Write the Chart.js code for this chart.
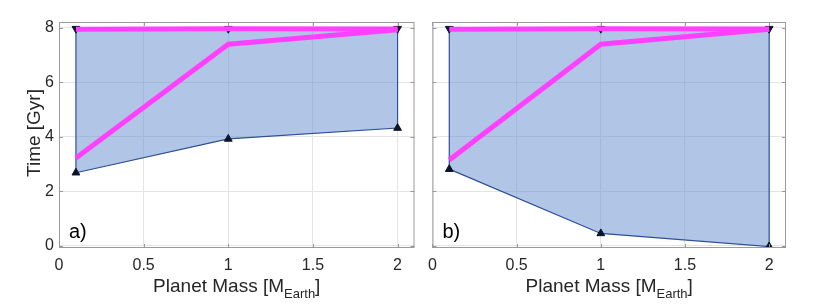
<!DOCTYPE html>
<html lang="en">
<head>
    <meta charset="UTF-8" />
    <title>Planet mass vs time</title>
    <script src="https://cdn.jsdelivr.net/npm/chart.js"></script>
    <style>
        html, body { margin: 0; padding: 0; background: #fff; }
        #wrap { position: relative; width: 830px; height: 305px; }
        canvas { position: absolute; top: 0; }
    </style>
</head>
<body>
<div id="wrap">
    <canvas id="chartA" width="420" height="305" style="left:0"></canvas>
    <canvas id="chartB" width="410" height="305" style="left:420px"></canvas>
</div>
<script>
    // data
    const masses = [0.1, 1, 2];
    const xTicks = [0, 0.5, 1, 1.5, 2];
    const yTicks = [0, 2, 4, 6, 8];

    const aLower = [2.68, 3.92, 4.32];
    const aUpper = [7.97, 7.97, 7.97];
    const aMedian = [3.22, 7.40, 7.93];
    const aMax = [7.95, 7.97, 7.96];

    const bLower = [2.81, 0.45, -0.03];
    const bUpper = [7.97, 7.97, 7.97];
    const bMedian = [3.15, 7.40, 7.95];
    const bMax = [7.95, 7.97, 7.96];

    const FONT = '"Liberation Sans", Arial, Helvetica, sans-serif';
    const TXT = '#262626';

    function pts(xs, ys) {
        return xs.map((x, i) => ({ x: x, y: ys[i] }));
    }

    function polygon(lower, upper) {
        const p = pts(masses, lower);
        for (let i = masses.length - 1; i >= 0; i--) p.push({ x: masses[i], y: upper[i] });
        p.push(p[0]);
        return p;
    }

    // box, inward ticks, titles and panel letter
    function framePlugin(letter, showYTitle) {
        return {
            id: 'frame',
            afterDraw(chart) {
                const ctx = chart.ctx;
                const a = chart.chartArea;
                const xs = chart.scales.x, ys = chart.scales.y;
                ctx.save();
                ctx.strokeStyle = '#9a9a9a';
                ctx.lineWidth = 1;
                ctx.strokeRect(a.left + 0.5, a.top + 0.5, a.right - a.left - 1, a.bottom - a.top - 1);
                ctx.beginPath();
                xTicks.forEach(v => {
                    const px = Math.round(xs.getPixelForValue(v)) + 0.5;
                    ctx.moveTo(px, a.bottom); ctx.lineTo(px, a.bottom - 4);
                    ctx.moveTo(px, a.top); ctx.lineTo(px, a.top + 4);
                });
                yTicks.forEach(v => {
                    const py = Math.round(ys.getPixelForValue(v)) + 0.5;
                    ctx.moveTo(a.left, py); ctx.lineTo(a.left + 4, py);
                    ctx.moveTo(a.right, py); ctx.lineTo(a.right - 4, py);
                });
                ctx.stroke();

                ctx.fillStyle = '#000';
                ctx.font = '20px ' + FONT;
                ctx.textAlign = 'left';
                ctx.textBaseline = 'alphabetic';
                ctx.fillText(letter, a.left + 10, a.bottom - 10);

                // x title with subscript
                ctx.fillStyle = TXT;
                const main = 'Planet Mass [M', sub = 'Earth', end = ']';
                ctx.font = '19px ' + FONT;
                const w1 = ctx.measureText(main).width;
                const w3 = ctx.measureText(end).width;
                ctx.font = '13px ' + FONT;
                const w2 = ctx.measureText(sub).width;
                let x0 = (a.left + a.right) / 2 - (w1 + w2 + w3) / 2;
                const base = 292;
                ctx.font = '19px ' + FONT;
                ctx.fillText(main, x0, base);
                ctx.font = '13px ' + FONT;
                ctx.fillText(sub, x0 + w1, base + 6);
                ctx.font = '19px ' + FONT;
                ctx.fillText(end, x0 + w1 + w2, base);

                if (showYTitle) {
                    ctx.translate(35, (a.top + a.bottom) / 2 - 2);
                    ctx.rotate(-Math.PI / 2);
                    ctx.textAlign = 'center';
                    ctx.textBaseline = 'middle';
                    ctx.fillText('Time [Gyr]', 0, 0);
                }
                ctx.restore();
            }
        };
    }

    function makeChart(id, lower, upper, median, maxLine, letter, showYLabels, yWidth, padRight) {
        const ctx = document.getElementById(id).getContext('2d');
        return new Chart(ctx, {
            type: 'scatter',
            data: {
                datasets: [
                    {
                        data: pts(masses, lower),
                        pointStyle: 'triangle',
                        pointRadius: 4.5,
                        backgroundColor: '#0a1428',
                        borderColor: '#0a1428',
                        borderWidth: 1,
                        showLine: false,
                        order: 1
                    },
                    {
                        data: pts(masses, upper),
                        pointStyle: 'triangle',
                        rotation: 180,
                        pointRadius: 4.5,
                        backgroundColor: '#0a1428',
                        borderColor: '#0a1428',
                        borderWidth: 1,
                        showLine: false,
                        order: 4
                    },
                    {
                        data: pts(masses, median),
                        showLine: true,
                        borderColor: '#ff40ff',
                        borderWidth: 5,
                        pointRadius: 0,
                        fill: false,
                        order: 2
                    },
                    {
                        data: pts(masses, maxLine),
                        showLine: true,
                        borderColor: '#ff40ff',
                        borderWidth: 5,
                        pointRadius: 0,
                        fill: false,
                        order: 2
                    },
                    {
                        data: polygon(lower, upper),
                        showLine: true,
                        borderColor: '#2c4f97',
                        borderWidth: 1.2,
                        backgroundColor: 'rgba(100,140,205,0.5)',
                        pointRadius: 0,
                        fill: 'shape',
                        order: 5
                    }
                ]
            },
            options: {
                responsive: false,
                animation: false,
                devicePixelRatio: 1,
                layout: { padding: { left: 0, right: padRight, top: 22, bottom: 0 } },
                plugins: { legend: { display: false }, tooltip: { enabled: false } },
                scales: {
                    x: {
                        type: 'linear',
                        min: 0,
                        max: 2.1,
                        afterBuildTicks: s => { s.ticks = xTicks.map(v => ({ value: v })); },
                        afterFit: s => { s.height = 57; },
                        grid: { color: '#e4e4e4', drawTicks: false },
                        border: { display: false },
                        ticks: {
                            padding: 8,
                            color: TXT,
                            font: { family: FONT, size: 16 },
                            callback: v => String(v),
                            maxRotation: 0
                        }
                    },
                    y: {
                        type: 'linear',
                        min: -0.085,
                        max: 8.215,
                        afterBuildTicks: s => { s.ticks = yTicks.map(v => ({ value: v })); },
                        afterFit: s => { s.width = yWidth; },
                        grid: { color: '#e4e4e4', drawTicks: false },
                        border: { display: false },
                        ticks: {
                            display: showYLabels,
                            padding: 5,
                            color: TXT,
                            font: { family: FONT, size: 16 },
                            callback: v => String(v)
                        }
                    }
                }
            },
            plugins: [framePlugin(letter, showYLabels)]
        });
    }

    makeChart('chartA', aLower, aUpper, aMedian, aMax, 'a)', true, 59, 3);
    makeChart('chartB', bLower, bUpper, bMedian, bMax, 'b)', false, 9, 44);
</script>
</body>
</html>
